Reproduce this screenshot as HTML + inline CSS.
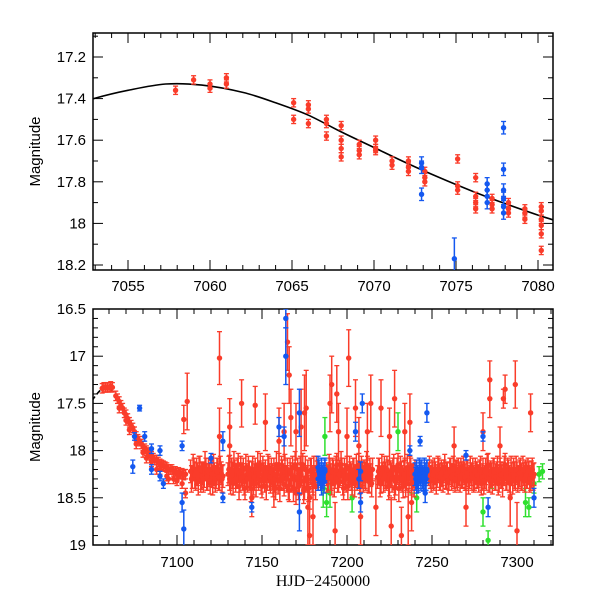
<!DOCTYPE html>
<html><head><meta charset="utf-8"><style>
body{margin:0;background:#fff}
svg{display:block}
text{font-family:"Liberation Sans",sans-serif;font-size:15px;fill:#000}
.ser{font-family:"Liberation Serif",serif;font-size:16px}
</style></head><body>
<svg id="chart" width="600" height="600" viewBox="0 0 600 600">
<g id="top"></g>
<g id="bot"></g>
</svg>
<script>
// ---- top panel data ----
const modelT = [7050,7052.9,7055,7057.3,7059.5,7062,7064,7066,7068,7070,7072,7074,7076,7078,7080,7081,7084];
const modelM = [17.47,17.40,17.36,17.33,17.335,17.37,17.42,17.48,17.56,17.635,17.71,17.78,17.845,17.905,17.96,17.985,18.06];
const topRedT = [7057.9,7059.0,7060.0,7060.0,7061.0,7061.0,7065.1,7065.1,7066.0,7066.0,7066.0,7067.1,7067.1,7067.1,7068.0,7068.0,7068.0,7068.0,7069.1,7069.1,7069.1,7070.1,7070.1,7070.1,7071.1,7071.1,7072.1,7072.1,7072.1,7073.1,7073.1,7073.1,7075.1,7075.1,7075.1,7076.2,7076.2,7076.2,7076.2,7077.2,7077.2,7077.2,7078.2,7078.2,7078.2,7079.2,7079.2,7079.2,7080.2,7080.2,7080.2,7080.2,7080.2,7080.2];
const topRedM = [17.36,17.31,17.33,17.35,17.30,17.33,17.42,17.50,17.43,17.45,17.52,17.50,17.52,17.58,17.53,17.60,17.64,17.68,17.62,17.65,17.67,17.60,17.64,17.65,17.70,17.72,17.70,17.73,17.75,17.75,17.78,17.80,17.69,17.82,17.84,17.78,17.87,17.90,17.93,17.88,17.91,17.93,17.90,17.93,17.95,17.93,17.95,17.98,17.92,17.94,17.98,18.01,18.05,18.13];
const topBlueT = [7072.9,7072.9,7072.9,7074.9,7076.9,7076.9,7076.9,7076.9,7077.9,7077.9,7077.9,7077.9,7077.9,7077.9];
const topBlueM = [17.71,17.73,17.86,18.17,17.81,17.84,17.87,17.90,17.54,17.74,17.84,17.88,17.92,17.95];
const topBlueE = [0.03,0.03,0.03,0.1,0.03,0.03,0.03,0.03,0.03,0.03,0.03,0.03,0.03,0.03];
const topXTicks = ["7055","7060","7065","7070","7075","7080"];
const topYTicks = ["17.2","17.4","17.6","17.8","18","18.2"];
// ---- bottom panel data ----
const declT = [7056,7057,7058,7059,7060,7061,7062,7064,7065,7066,7067,7068,7069,7070,7071,7072,7073,7074,7075,7076,7077,7078,7079,7080,7081,7082,7083,7084,7085,7086,7087,7088,7089,7090,7091,7092,7093,7094,7095,7096,7097,7098,7099,7100,7101,7102,7103,7104,7105,7066,7070,7080,7085,7090,7095,7100,7103,7105,7072,7076,7082,7088,7094,7098];
const declM = [17.34,17.33,17.33,17.33,17.33,17.32,17.33,17.42,17.45,17.48,17.52,17.55,17.6,17.62,17.66,17.7,17.73,17.76,17.8,17.85,17.88,17.9,17.93,17.95,17.98,18.0,18.02,18.05,18.06,18.08,18.1,18.1,18.12,18.14,18.15,18.16,18.17,18.18,18.2,18.2,18.2,18.22,18.22,18.24,18.23,18.25,18.24,18.26,18.25,17.55,17.68,18.02,18.12,18.2,18.3,18.32,18.35,18.45,17.78,17.93,18.08,18.2,18.27,18.3];
const segStart = [7108,7130,7188,7218,7248];
const segA = [18.22,18.28,18.2,18.3,18.25,18.18,18.32,18.24,18.27,18.2,18.3,18.26,18.22,18.35,18.25,18.28,18.2,18.3,18.24,18.27];
const segB = [18.25,18.3,18.2,18.35,18.22,18.28,18.15,18.32,18.25,18.2,18.4,18.26,18.18,18.3,18.24,18.35,18.2,18.27,18.3,18.15,18.38,18.25,18.22,18.3,18.18,18.33,18.26,18.2,18.4,18.25,18.15,18.3,18.22,18.36,18.28,18.2,18.42,18.25,18.18,18.3,18.45,18.2,18.35,18.25,18.15,18.4,18.3,18.22,18.5,18.2,18.35,18.28,18.18,18.3];
const segC = [18.25,18.3,18.2,18.35,18.22,18.28,18.15,18.32,18.25,18.2,18.4,18.26,18.18,18.3,18.24,18.35,18.2,18.27,18.3,18.15,18.38,18.25,18.22,18.3,18.18,18.33,18.26,18.2];
const segD = [18.28,18.2,18.33,18.25,18.18,18.3,18.22,18.36,18.25,18.2,18.4,18.28,18.15,18.3,18.24,18.38,18.2,18.3,18.25,18.18,18.35,18.27,18.22];
const segE = [18.25,18.28,18.22,18.3,18.24,18.27,18.2,18.3,18.25,18.22,18.28,18.24,18.3,18.2,18.26,18.28,18.22,18.3,18.25,18.2,18.27,18.24,18.3,18.22,18.28,18.25,18.2,18.3,18.24,18.27,18.22,18.35,18.2,18.28,18.3,18.15,18.32,18.25,18.2,18.3,18.24,18.35,18.2,18.28,18.25,18.15,18.3,18.22,18.35,18.25,18.2,18.3,18.24,18.28,18.2,18.3,18.25,18.22,18.28,18.24,18.3,18.2,18.25];
const segA2 = [18.3,18.18,18.26,18.22,18.33,18.2,18.27,18.3,18.15,18.28,18.22,18.32,18.25,18.18,18.3,18.22,18.28,18.2,18.3];
const segB2 = [18.2,18.32,18.26,18.15,18.3,18.22,18.38,18.2,18.28,18.33,18.18,18.3,18.25,18.4,18.2,18.28,18.35,18.15,18.25,18.32,18.2,18.3,18.38,18.18,18.28,18.22,18.35,18.3,18.15,18.32,18.4,18.2,18.28,18.18,18.3,18.38,18.22,18.3,18.4,18.15,18.28,18.38,18.2,18.32,18.42,18.2,18.3,18.4,18.22,18.3,18.2,18.38,18.25];
const segC2 = [18.3,18.18,18.28,18.22,18.35,18.2,18.3,18.25,18.15,18.33,18.22,18.3,18.38,18.2,18.28,18.22,18.35,18.18,18.25,18.32,18.2,18.3,18.26,18.15,18.3,18.22,18.35];
const segD2 = [18.22,18.35,18.18,18.3,18.26,18.2,18.38,18.25,18.3,18.18,18.33,18.22,18.4,18.2,18.3,18.25,18.35,18.18,18.3,18.22,18.28,18.35];
const segE2 = [18.2,18.3,18.26,18.22,18.32,18.2,18.28,18.24,18.3,18.18,18.27,18.32,18.22,18.28,18.2,18.3,18.25,18.22,18.3,18.26,18.2,18.28,18.24,18.32,18.2,18.28,18.3,18.22,18.26,18.3,18.2,18.28,18.32,18.22,18.18,18.3,18.25,18.32,18.22,18.28,18.2,18.3,18.26,18.35,18.2,18.28,18.22,18.3,18.2,18.32,18.26,18.2,18.3,18.24,18.28,18.2,18.3,18.26,18.22,18.3,18.25,18.28];
const outT = [7104,7106,7125,7125,7131,7131,7138,7146,7152,7160,7163,7165,7166,7167,7170,7173,7175,7176,7177,7178,7180,7190,7191,7193,7194,7195,7201,7200,7205,7207,7208,7212,7214,7217,7220,7225,7226,7228,7232,7234,7236,7237,7263,7270,7280,7284,7284,7290,7292,7293,7299,7300,7308,7296,7238,7157,7144];
const outM = [17.67,17.48,17.02,17.85,17.75,17.95,17.5,17.52,17.7,17.9,17.8,16.85,17.2,17.65,17.8,17.75,17.6,17.55,18.6,18.9,18.7,17.5,17.3,18.85,17.4,17.8,17.02,17.85,17.55,17.95,18.7,17.8,17.5,18.6,17.55,17.85,18.8,17.45,18.9,17.8,18.7,17.7,17.95,18.6,17.8,17.45,17.25,17.95,17.45,17.35,17.3,18.85,17.6,18.5,18.55,18.4,18.5];
const outE = [0.15,0.3,0.28,0.3,0.3,0.35,0.25,0.2,0.3,0.35,0.3,0.3,0.3,0.3,0.3,0.4,0.4,0.4,0.4,0.4,0.3,0.3,0.3,0.3,0.3,0.3,0.3,0.3,0.3,0.3,0.3,0.3,0.3,0.3,0.3,0.3,0.3,0.3,0.3,0.3,0.3,0.3,0.2,0.2,0.2,0.2,0.2,0.2,0.1,0.15,0.25,0.3,0.2,0.3,0.3,0.2,0.2];
const blueT = [7078,7075,7074,7081,7085,7090,7092,7090,7085,7103,7104,7103,7120,7127,7127,7144,7160,7164,7164,7163,7172,7172,7209,7205,7208,7237,7247,7246,7243,7280,7270,7283,7310,7183,7183.5,7184,7184.5,7185,7185.5,7186,7186.5,7187,7183,7185,7187,7207,7208,7240,7240.5,7241,7241.5,7242,7242.5,7243,7243.5,7244,7244.5,7245,7245.5,7246,7246.5,7247,7241,7243,7245,7247];
const blueM = [17.55,17.85,18.17,17.85,17.98,18.0,18.35,18.27,18.2,18.55,18.83,17.95,18.08,17.9,18.5,18.6,17.75,16.6,17.0,17.85,17.6,18.65,17.5,17.8,18.55,18.0,17.6,18.45,17.9,17.85,18.05,18.6,18.5,18.3,18.22,18.25,18.3,18.2,18.28,18.25,18.33,18.22,18.18,18.35,18.2,18.3,18.22,18.25,18.3,18.22,18.28,18.32,18.2,18.25,18.3,18.22,18.28,18.3,18.2,18.25,18.3,18.22,18.35,18.2,18.33,18.2];
const blueE = [0.03,0.04,0.07,0.05,0.05,0.05,0.05,0.05,0.05,0.1,0.2,0.05,0.05,0.1,0.05,0.05,0.1,0.1,0.3,0.1,0.25,0.2,0.1,0.1,0.1,0.05,0.1,0.1,0.05,0.05,0.05,0.1,0.1,0.12,0.12,0.12,0.12,0.12,0.12,0.12,0.12,0.12,0.12,0.12,0.12,0.1,0.1,0.12,0.12,0.12,0.12,0.12,0.12,0.12,0.12,0.12,0.12,0.12,0.12,0.12,0.12,0.12,0.1,0.1,0.1,0.1];
const greenT = [7187,7188,7190,7203,7230,7238,7241,7280,7285,7305,7310,7313,7315,7307,7283,7186,7189];
const greenM = [17.85,18.55,18.45,18.5,17.8,18.3,18.5,18.65,18.3,18.55,18.35,18.25,18.22,18.6,18.95,18.4,18.3];
const greenE = [0.2,0.15,0.15,0.15,0.2,0.15,0.15,0.15,0.1,0.15,0.1,0.08,0.08,0.1,0.1,0.2,0.15];
const botXTicks = ["7100","7150","7200","7250","7300"];
const botYTicks = ["16.5","17","17.5","18","18.5","19"];

const NS="http://www.w3.org/2000/svg";
const RED="#fa3c2a", BLUE="#1458f0", GREEN="#2ee02e";
function mk(tag,attrs,parent){const e=document.createElementNS(NS,tag);for(const k in attrs)e.setAttribute(k,attrs[k]);parent.appendChild(e);return e;}

const L=93,R=553;
const txT=d=>128+(d-7055)*16.4, tyT=m=>57+(m-17.2)*208;
const txB=d=>177+(d-7100)*1.7, tyB=m=>309+(m-16.5)*94.4;

function frame(g,top,bot,xs,ys,xMinor,xMajor,yMinor,yMajor,xlabels,ylabels,name){
  const r=mk('rect',{x:L,y:top,width:R-L,height:bot-top,fill:'none',stroke:'#000','stroke-width':1.5},g);
  
  
  for(const d of xMinor){const x=xs(d);if(x<L||x>R)continue;const big=xMajor.includes(d);const h=big?10:5;
    mk('line',{x1:x,x2:x,y1:bot,y2:bot-h,stroke:'#000'},g);mk('line',{x1:x,x2:x,y1:top,y2:top+h,stroke:'#000'},g);}
  for(const m of yMinor){const y=ys(m);if(y<top-0.5||y>bot+0.5)continue;const big=yMajor.includes(m);const h=big?10:5;
    mk('line',{x1:L,x2:L+h,y1:y,y2:y,stroke:'#000'},g);mk('line',{x1:R,x2:R-h,y1:y,y2:y,stroke:'#000'},g);}
  xlabels.forEach(s=>{const t=mk('text',{x:xs(+s),y:xlabels.ly,'text-anchor':'middle'},g);t.textContent=s;
    
    });
  ylabels.forEach(s=>{const t=mk('text',{x:86,y:ys(+s)+5,'text-anchor':'end'},g);t.textContent=s;
    
    });
  const yl=mk('text',{x:0,y:0,transform:`translate(40 ${(top+bot)/2}) rotate(-90)`,'text-anchor':'middle','font-size':14},g);
  yl.textContent='Magnitude';
  
  
}
function pts(g,T,M,E,col,xs,ys,clipId,name,off){
  off=off||0;
  const grp=mk('g',{'clip-path':`url(#${clipId})`},g);
  
  
  for(let i=0;i<T.length;i++){
    const x=xs(T[i]+off),y=ys(M[i]),e=(E?(Array.isArray(E)?E[i]:E):0.02);
    const y1=ys(M[i]-e),y2=ys(M[i]+e);
    mk('line',{x1:x,x2:x,y1:y1,y2:y2,stroke:col,'stroke-width':1.5},grp);
    mk('line',{x1:x-2.5,x2:x+2.5,y1:y1,y2:y1,stroke:col,'stroke-width':1.3},grp);
    mk('line',{x1:x-2.5,x2:x+2.5,y1:y2,y2:y2,stroke:col,'stroke-width':1.3},grp);
    mk('circle',{cx:x,cy:y,r:2.7,fill:col},grp);
  }
}
function curve(g,xs,ys,clipId,dash){
  const P=modelT.map((t,i)=>[xs(t),ys(modelM[i])]);
  let d='M'+P[0][0].toFixed(1)+' '+P[0][1].toFixed(1);
  for(let i=0;i<P.length-1;i++){
    const p0=P[Math.max(i-1,0)],p1=P[i],p2=P[i+1],p3=P[Math.min(i+2,P.length-1)];
    const c1=[p1[0]+(p2[0]-p0[0])/6,p1[1]+(p2[1]-p0[1])/6],c2=[p2[0]-(p3[0]-p1[0])/6,p2[1]-(p3[1]-p1[1])/6];
    d+=`C${c1[0].toFixed(1)} ${c1[1].toFixed(1)} ${c2[0].toFixed(1)} ${c2[1].toFixed(1)} ${p2[0].toFixed(1)} ${p2[1].toFixed(1)}`;
  }
  const p=mk('path',{d:d,fill:'none',stroke:'#000','stroke-width':1.6,'clip-path':`url(#${clipId})`},g);
  if(dash)p.setAttribute('stroke-dasharray',dash);
  
  
}
const svg=document.getElementById('chart');
const defs=mk('defs',{},svg);
const c1=mk('clipPath',{id:'cT'},defs);mk('rect',{x:L,y:33,width:R-L,height:237},c1);
const c2=mk('clipPath',{id:'cB'},defs);mk('rect',{x:L,y:309,width:R-L,height:236},c2);

const gT=document.getElementById('top');
const rng=(a,b,s)=>{const r=[];for(let v=a;v<=b+1e-9;v+=s)r.push(+v.toFixed(2));return r;};
const xl1=topXTicks.slice();xl1.ly=291;
frame(gT,33,270,txT,tyT,rng(7053,7081,1),rng(7055,7080,5),rng(17.1,18.2,0.1),rng(17.2,18.2,0.2),xl1,topYTicks,'top');
curve(gT,txT,tyT,'cT');
pts(gT,topRedT,topRedM,0.02,RED,txT,tyT,'cT','top-red-points');
pts(gT,topBlueT,topBlueM,topBlueE,BLUE,txT,tyT,'cT','top-blue-points');

const gB=document.getElementById('bot');
const xl2=botXTicks.slice();xl2.ly=567;
frame(gB,309,545,txB,tyB,rng(7060,7320,10),rng(7100,7300,50),rng(16.5,19,0.1),rng(16.5,19,0.5),xl2,botYTicks,'bottom');
curve(gB,txB,tyB,'cB','5 3');
pts(gB,greenT,greenM,greenE,GREEN,txB,tyB,'cB','bottom-green-points');
pts(gB,outT,outM,outE,RED,txB,tyB,'cB','bottom-red-outliers');
pts(gB,declT,declM,0.05,RED,txB,tyB,'cB','bottom-red-decline');
[segA,segB,segC,segD,segE].forEach((seg,k)=>{
  const T=seg.map((_,i)=>segStart[k]+i);
  pts(gB,T,seg,0.12,RED,txB,tyB,'cB','bottom-red-band');
});
[segA2,segB2,segC2,segD2,segE2].forEach((seg,k)=>{
  const T=seg.map((_,i)=>segStart[k]+i);
  pts(gB,T,seg,0.14,RED,txB,tyB,'cB','bottom-red-band-2',0.5);
});
pts(gB,blueT,blueM,blueE,BLUE,txB,tyB,'cB','bottom-blue-points');
const xt=mk('text',{x:323,y:586,'text-anchor':'middle',class:'ser'},gB);
xt.textContent='HJD\u22122450000';


</script>
</body></html>
